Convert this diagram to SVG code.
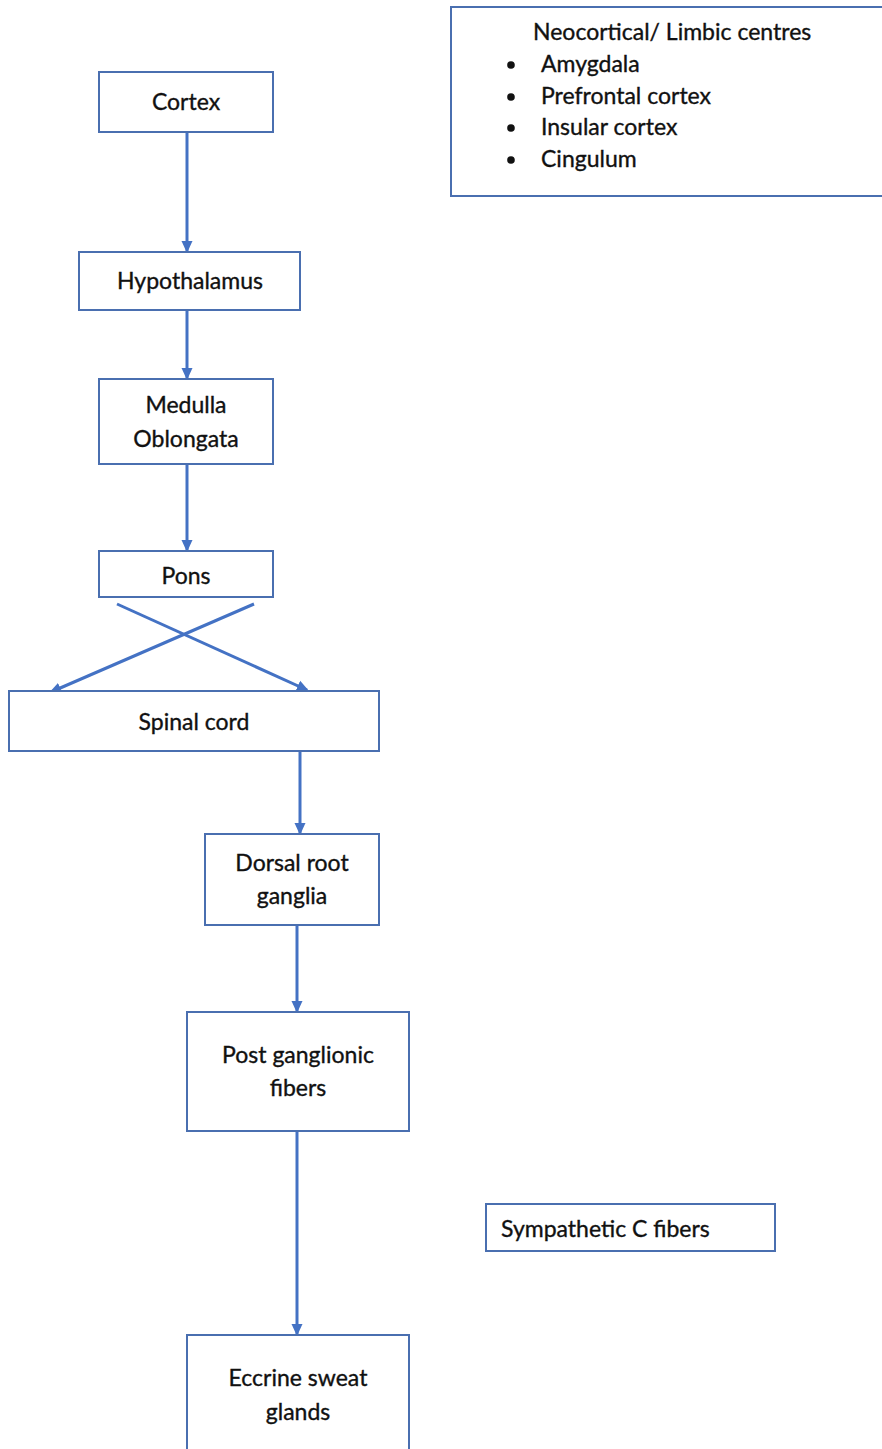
<svg xmlns="http://www.w3.org/2000/svg" width="882" height="1449" viewBox="0 0 882 1449">
<style>
.box{fill:#fff;stroke:#4a6fb0;stroke-width:2}
.t{font-family:Lato,"Open Sans","Liberation Sans",sans-serif;font-size:23px;fill:#111;stroke:#111;stroke-width:0.35;text-anchor:middle}
.tl{font-family:Lato,"Open Sans","Liberation Sans",sans-serif;font-size:23px;fill:#111;stroke:#111;stroke-width:0.35}
.c{stroke:#4472c4;stroke-width:3;fill:none;marker-end:url(#ah)}
</style>
<defs>
<marker id="ah" markerWidth="12" markerHeight="12" refX="10" refY="6" orient="auto" markerUnits="userSpaceOnUse">
<path d="M0,0.5 L12,6 L0,11.5 z" fill="#4472c4"/>
</marker>
</defs>
<rect width="882" height="1449" fill="#fff"/>
<g id="connectors">
<line class="c" x1="187" y1="133" x2="187" y2="251"/>
<line class="c" x1="187" y1="311" x2="187" y2="378"/>
<line class="c" x1="187" y1="465" x2="187" y2="550"/>
<line class="c" x1="117" y1="604" x2="307" y2="690"/>
<line class="c" x1="254" y1="604" x2="51" y2="692"/>
<line class="c" x1="300" y1="752" x2="300" y2="833"/>
<line class="c" x1="297" y1="926" x2="297" y2="1011"/>
<line class="c" x1="297" y1="1132" x2="297" y2="1334"/>
</g>
<g id="neocortical">
<rect class="box" x="451" y="7" width="432" height="189"/>
<text class="tl" x="533" y="40">Neocortical/ Limbic centres</text>
<circle cx="511" cy="65" r="3.8" fill="#111"/>
<circle cx="511" cy="97" r="3.8" fill="#111"/>
<circle cx="511" cy="128" r="3.8" fill="#111"/>
<circle cx="511" cy="160" r="3.8" fill="#111"/>
<text class="tl" x="541" y="72">Amygdala</text>
<text class="tl" x="541" y="104">Prefrontal cortex</text>
<text class="tl" x="541" y="135">Insular cortex</text>
<text class="tl" x="541" y="167">Cingulum</text>
</g>
<g id="cortex"><rect class="box" x="99" y="72" width="174" height="60"/><text class="t" x="186" y="110">Cortex</text></g>
<g id="hypothalamus"><rect class="box" x="79" y="252" width="221" height="58"/><text class="t" x="190" y="289">Hypothalamus</text></g>
<g id="medulla"><rect class="box" x="99" y="379" width="174" height="85"/><text class="t" x="186" y="413">Medulla</text><text class="t" x="186" y="447">Oblongata</text></g>
<g id="pons"><rect class="box" x="99" y="551" width="174" height="46"/><text class="t" x="186" y="584">Pons</text></g>
<g id="spinal"><rect class="box" x="9" y="691" width="370" height="60"/><text class="t" x="194" y="730">Spinal cord</text></g>
<g id="dorsal"><rect class="box" x="205" y="834" width="174" height="91"/><text class="t" x="292" y="871">Dorsal root</text><text class="t" x="292" y="904">ganglia</text></g>
<g id="post"><rect class="box" x="187" y="1012" width="222" height="119"/><text class="t" x="298" y="1063">Post ganglionic</text><text class="t" x="298" y="1096">fibers</text></g>
<g id="sympathetic"><rect class="box" x="486" y="1204" width="289" height="47"/><text class="tl" x="501" y="1237">Sympathetic C fibers</text></g>
<g id="eccrine"><rect class="box" x="187" y="1335" width="222" height="130"/><text class="t" x="298" y="1386">Eccrine sweat</text><text class="t" x="298" y="1420">glands</text></g>
</svg>
